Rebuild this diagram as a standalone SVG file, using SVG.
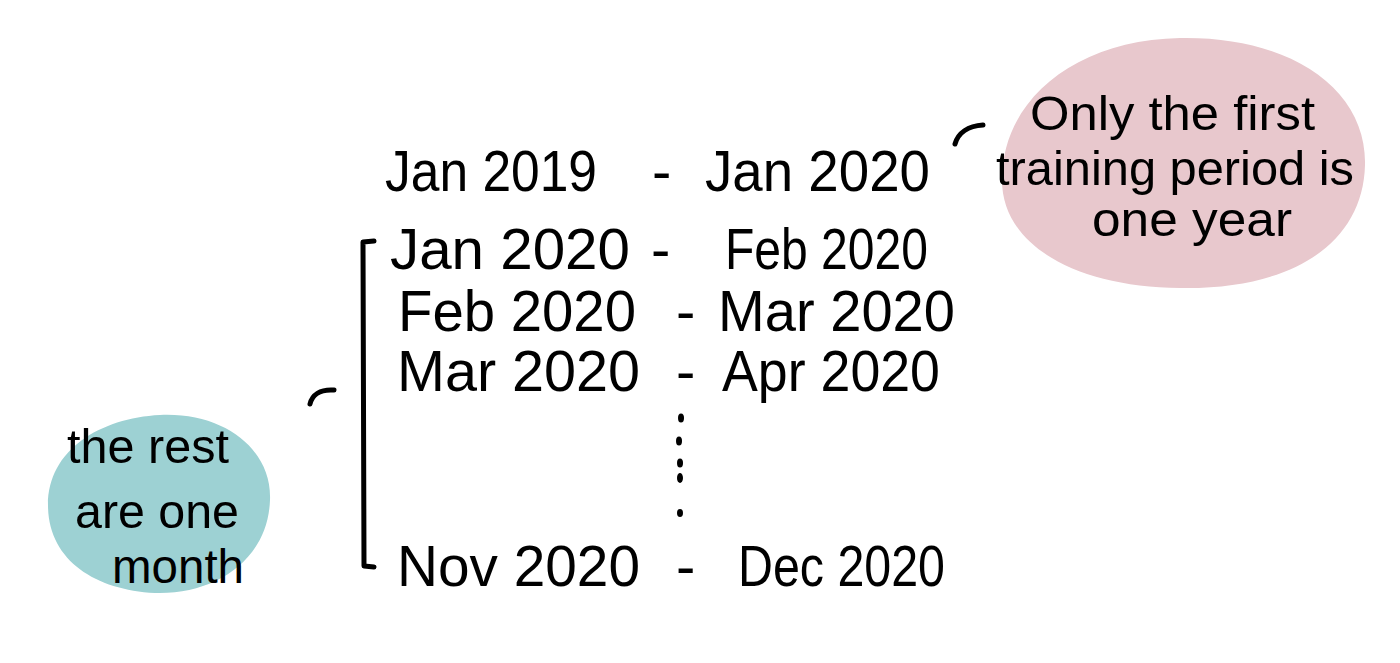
<svg xmlns="http://www.w3.org/2000/svg" width="1400" height="663" viewBox="0 0 1400 663">
<style>
.t{font-family:"Liberation Sans",Arial,sans-serif;font-size:58px;fill:#000;}
.n{font-family:"Liberation Sans",Arial,sans-serif;font-size:48px;fill:#000;}
.s{fill:none;stroke:#000;stroke-width:5;stroke-linecap:round;stroke-linejoin:round;}
.d{fill:#000;}
</style>
<rect width="1400" height="663" fill="#fff"/>
<g id="note-first">
<path d="M1180 38 C1292 36 1367 90 1365 165 C1363 245 1290 290 1180 288 C1075 287 1002 245 1002 180 C1002 100 1075 40 1180 38 Z" fill="#E8C8CD"/>
<text class="n" x="1030" y="130" textLength="285" lengthAdjust="spacingAndGlyphs">Only the first</text>
<text class="n" x="996" y="185" textLength="358" lengthAdjust="spacingAndGlyphs">training period is</text>
<text class="n" x="1092" y="236" textLength="200" lengthAdjust="spacingAndGlyphs">one year</text>
</g>
<g id="note-rest">
<path d="M160 415 C225 412 272 450 270 500 C268 560 215 595 155 593 C95 590 48 560 48 505 C48 450 100 418 160 415 Z" fill="#9DD1D3"/>
<text class="n" x="67" y="463" textLength="162" lengthAdjust="spacingAndGlyphs">the rest</text>
<text class="n" x="75" y="528" textLength="164" lengthAdjust="spacingAndGlyphs">are one</text>
<text class="n" x="112" y="583" textLength="132" lengthAdjust="spacingAndGlyphs">month</text>
</g>
<g id="row1">
<text class="t" x="385" y="191" textLength="212" lengthAdjust="spacingAndGlyphs">Jan 2019</text>
<text class="t" x="652" y="191">-</text>
<text class="t" x="705" y="191" textLength="225" lengthAdjust="spacingAndGlyphs">Jan 2020</text>
</g>
<g id="row2">
<text class="t" x="390" y="269" textLength="240" lengthAdjust="spacingAndGlyphs">Jan 2020</text>
<text class="t" x="651" y="269">-</text>
<text class="t" x="725" y="269" textLength="203" lengthAdjust="spacingAndGlyphs">Feb 2020</text>
</g>
<g id="row3">
<text class="t" x="398" y="331" textLength="238" lengthAdjust="spacingAndGlyphs">Feb 2020</text>
<text class="t" x="676" y="331">-</text>
<text class="t" x="718" y="331" textLength="237" lengthAdjust="spacingAndGlyphs">Mar 2020</text>
</g>
<g id="row4">
<text class="t" x="397" y="391" textLength="243" lengthAdjust="spacingAndGlyphs">Mar 2020</text>
<text class="t" x="676" y="391">-</text>
<text class="t" x="722" y="391" textLength="218" lengthAdjust="spacingAndGlyphs">Apr 2020</text>
</g>
<g id="ellipsis">
<ellipse class="d" cx="681" cy="418" rx="3" ry="4.5"/>
<ellipse class="d" cx="679" cy="441" rx="3" ry="4.5"/>
<ellipse class="d" cx="680" cy="463" rx="3" ry="4.5"/>
<ellipse class="d" cx="680" cy="478" rx="3" ry="5"/>
<ellipse class="d" cx="680" cy="513" rx="3" ry="4"/>
</g>
<g id="row5">
<text class="t" x="397" y="586" textLength="243" lengthAdjust="spacingAndGlyphs">Nov 2020</text>
<text class="t" x="676" y="586">-</text>
<text class="t" x="738" y="586" textLength="207" lengthAdjust="spacingAndGlyphs">Dec 2020</text>
</g>
<g id="connectors">
<path class="s" d="M374 241 L363 242 L364 566 L374 567"/>
<path class="s" d="M310 404 C312 395 320 389 334 390"/>
<path class="s" d="M955 144 C958 133 968 126 983 125"/>
</g>
</svg>
